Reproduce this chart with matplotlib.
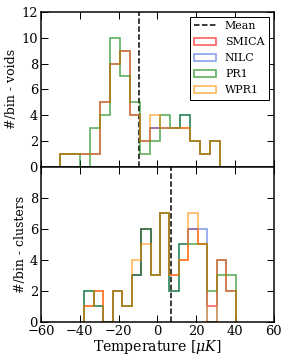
import numpy as np
import matplotlib
matplotlib.use('Agg')
import matplotlib.pyplot as plt

plt.rcParams['font.family'] = 'DejaVu Serif'
plt.rcParams['mathtext.fontset'] = 'dejavuserif'

maps = ['SMICA', 'NILC', 'PR1', 'WPR1']
colors = ['red', 'royalblue', 'green', 'darkorange']

# voids: 16 bins
void_edges = np.linspace(-50.2, 32.2, 17)
void_counts = {
    'SMICA': [1, 1, 1, 1, 5, 8, 9, 4, 2, 3, 3, 3, 3, 2, 1, 2],
    'NILC':  [1, 1, 1, 1, 5, 8, 9, 4, 2, 3, 3, 3, 4, 2, 1, 2],
    'PR1':   [1, 1, 0, 3, 4, 10, 7, 5, 1, 2, 4, 3, 4, 2, 1, 2],
    'WPR1':  [1, 1, 1, 1, 5, 8, 9, 4, 2, 4, 3, 3, 3, 2, 1, 2],
}
void_mean = -9.4

# clusters: 16 bins
cluster_edges = np.linspace(-37.7, 40.4, 17)
cluster_counts = {
    'SMICA': [1, 2, 0, 2, 1, 3, 6, 3, 7, 3, 4, 6, 5, 1, 4, 2],
    'NILC':  [2, 1, 0, 2, 1, 3, 6, 3, 7, 2, 5, 6, 6, 0, 4, 2],
    'PR1':   [2, 1, 0, 2, 1, 3, 6, 3, 7, 2, 5, 5, 5, 2, 3, 3],
    'WPR1':  [1, 2, 0, 2, 1, 4, 5, 3, 7, 3, 4, 7, 5, 0, 4, 2],
}
cluster_mean = 6.8

fig, (ax1, ax2) = plt.subplots(2, 1, figsize=(4, 5), dpi=72, sharex=True)
fig.subplots_adjust(left=0.142, right=0.951, top=0.967, bottom=0.106, hspace=0)

for ax, edges, counts, mean in [(ax1, void_edges, void_counts, void_mean),
                                (ax2, cluster_edges, cluster_counts, cluster_mean)]:
    centers = 0.5 * (edges[1:] + edges[:-1])
    ax.axvline(mean, color='k', ls='--', lw=1.5, label='Mean')
    for name, c in zip(maps, colors):
        ax.hist(centers, bins=edges, weights=counts[name], histtype='step',
                color=c, lw=1.6, alpha=0.65, label=name)
    ax.tick_params(direction='in', top=True, right=True, length=7, width=1,
                   labelsize=13, pad=3)
    for s in ax.spines.values():
        s.set_linewidth(1.5)

ax1.set_ylim(0, 12)
ax1.set_yticks(range(0, 13, 2))
ax2.set_ylim(0, 10)
ax2.set_yticks(range(0, 9, 2))
ax2.set_xlim(-60, 60)
ax2.set_xticks(range(-60, 61, 20))

ax1.set_ylabel('#/bin - voids', fontsize=12.5, labelpad=3)
ax2.set_ylabel('#/bin - clusters', fontsize=12.5, labelpad=3)
ax2.set_xlabel(r'Temperature [$\mu K$]', fontsize=14, labelpad=0)

leg = ax1.legend(loc='upper right', fontsize=11, fancybox=False,
                 edgecolor='k', framealpha=1, borderaxespad=0.45,
                 handlelength=2.0, labelspacing=0.55)
leg.get_frame().set_linewidth(1)

fig.savefig('out.png', dpi=72)
